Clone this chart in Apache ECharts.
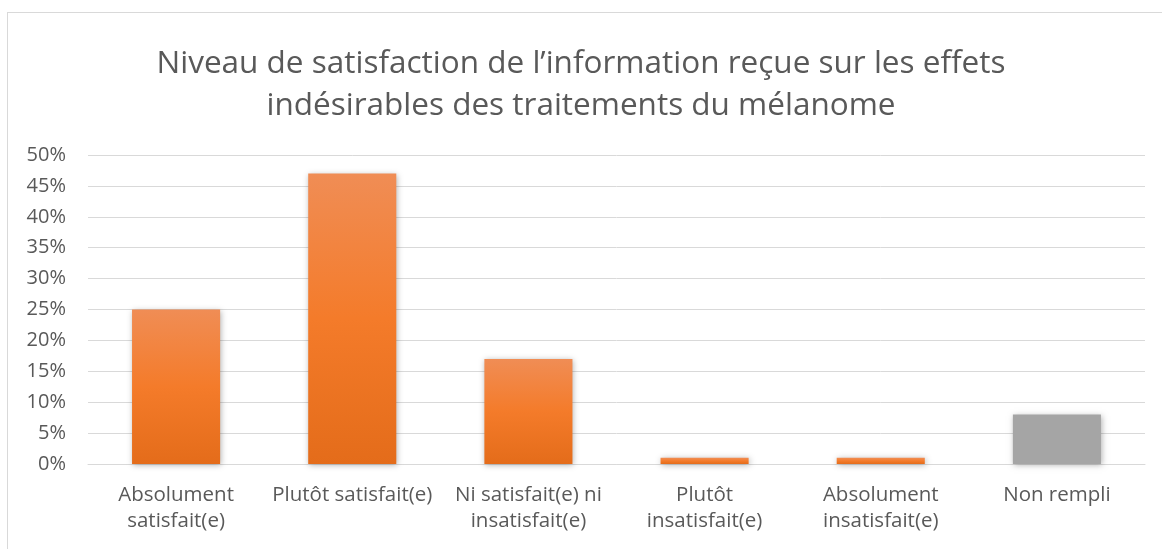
<!DOCTYPE html>
<html>
<head>
<meta charset="utf-8">
<title>Niveau de satisfaction</title>
<script src="https://cdn.jsdelivr.net/npm/echarts@6/dist/echarts.min.js"></script>
<style>
  html, body { margin: 0; padding: 0; background: #fff; }
  #frame { position: absolute; left: 7px; top: 12px; width: 1170px; height: 560px; border: 1px solid #d9d9d9; }
  #main { position: absolute; left: 0; top: 0; width: 1162px; height: 549px; }
</style>
</head>
<body>
<div id="frame"></div>
<div id="main"></div>
<script type="text/javascript">
// categories and values (percent)
var categories = ['Absolument\nsatisfait(e)', 'Plutôt satisfait(e)', 'Ni satisfait(e) ni\ninsatisfait(e)', 'Plutôt\ninsatisfait(e)', 'Absolument\ninsatisfait(e)', 'Non rempli'];
var values = [25, 47, 17, 1, 1, 8];
var barColors = ['orange', 'orange', 'orange', 'orange', 'orange', 'grey'];
var yTicks = [0, 5, 10, 15, 20, 25, 30, 35, 40, 45, 50];

var orangeFill = new echarts.graphic.LinearGradient(0, 0, 0, 1, [
    { offset: 0, color: '#F08D55' },
    { offset: 0.5, color: '#F47B2A' },
    { offset: 1, color: '#E46C1A' }
]);

var myChart = echarts.init(document.getElementById('main'));
var option = {
    animation: false,
    title: {
        text: 'Niveau de satisfaction de l\u2019information reçue sur les effets\nindésirables des traitements du mélanome',
        left: 'center',
        top: 38,
        textStyle: { color: '#595959', fontSize: 31.5, fontWeight: 'normal', fontFamily: 'Open Sans', lineHeight: 42 }
    },
    grid: { left: 88, right: 17, top: 155, bottom: 85 },
    xAxis: {
        type: 'category',
        data: categories,
        axisLine: { lineStyle: { color: '#d9d9d9', width: 1 } },
        axisTick: { show: false },
        axisLabel: { color: '#595959', fontSize: 20.5, fontFamily: 'Open Sans', lineHeight: 26, margin: 18, interval: 0 }
    },
    yAxis: {
        type: 'value',
        min: yTicks[0],
        max: yTicks[yTicks.length - 1],
        interval: 5,
        axisLabel: { color: '#595959', fontSize: 20, fontFamily: 'Open Sans', formatter: '{value}%', margin: 22 },
        splitLine: { lineStyle: { color: '#d9d9d9', width: 1 } },
        axisLine: { show: false },
        axisTick: { show: false }
    },
    series: [{
        type: 'bar',
        barWidth: '50%',
        data: values.map(function (v, i) {
            return {
                value: v,
                itemStyle: {
                    color: barColors[i] === 'grey' ? '#A5A5A5' : orangeFill,
                    shadowBlur: 6,
                    shadowColor: 'rgba(0,0,0,0.3)',
                    shadowOffsetX: 1,
                    shadowOffsetY: 1
                }
            };
        })
    }]
};
myChart.setOption(option);
</script>
</body>
</html>
